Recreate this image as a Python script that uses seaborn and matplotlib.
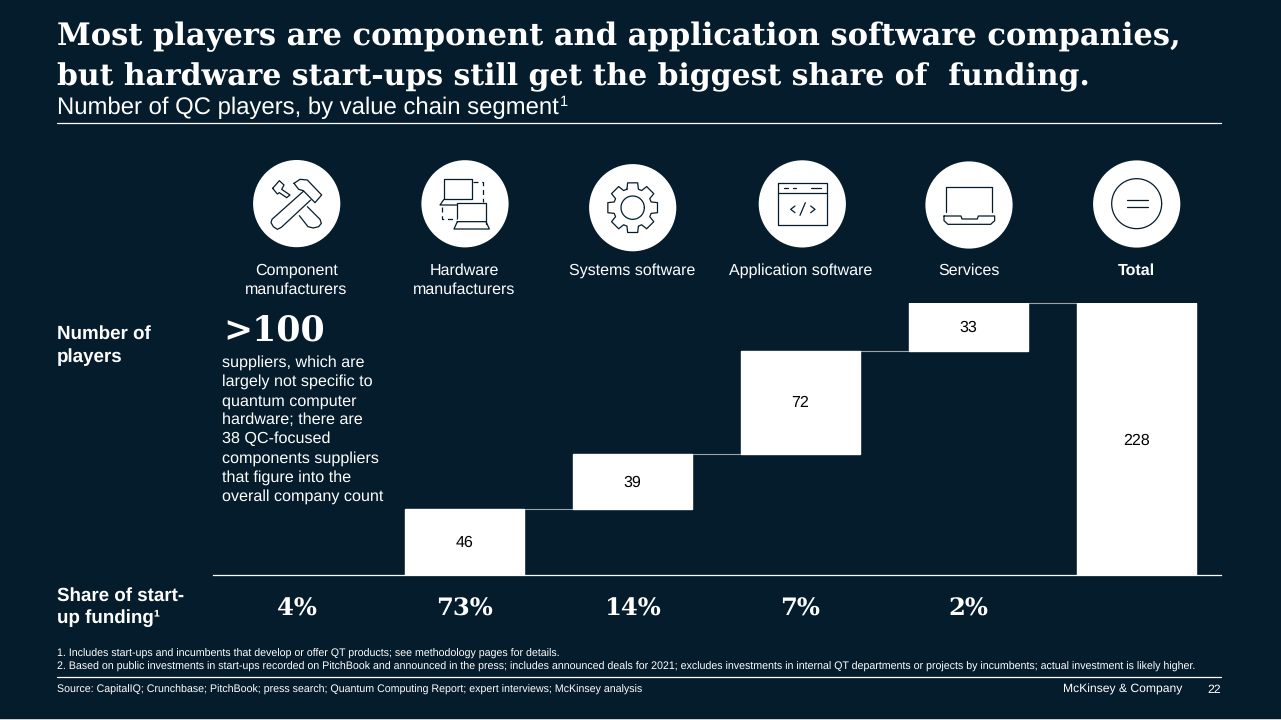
import numpy as np
import pandas as pd
import matplotlib
matplotlib.use('Agg')
import matplotlib.pyplot as plt
from matplotlib.patches import Circle, Rectangle
import seaborn as sns

segments = ['Component', 'Hardware', 'Systems', 'Application', 'Services', 'Total']
segment_labels = ['Component\nmanufacturers', 'Hardware\nmanufacturers', 'Systems software',
                  'Application software', 'Services', 'Total']
# component suppliers are not drawn as a bar, the total bar only spans the visible steps
step_values = [0, 46, 39, 72, 33]
value_labels = ['', '46', '39', '72', '33', '228']
funding_labels = ['4%', '73%', '14%', '7%', '2%', '']

title_lines = ['Most players are component and application software companies,',
               'but hardware start-ups still get the biggest share of  funding.']
subtitle = 'Number of QC players, by value chain segment'
note_lines = ['suppliers, which are', 'largely not specific to', 'quantum computer', 'hardware; there are',
              '38 QC-focused', 'components suppliers', 'that figure into the', 'overall company count']
footnotes = ['1. Includes start-ups and incumbents that develop or offer QT products; see methodology pages for details.',
             '2. Based on public investments in start-ups recorded on PitchBook and announced in the press; includes announced deals for 2021; excludes investments in internal QT departments or projects by incumbents; actual investment is likely higher.']
source = 'Source: CapitalIQ; Crunchbase; PitchBook; press search; Quantum Computing Report; expert interviews; McKinsey analysis'

BG = '#051C2C'
SANS = 'Liberation Sans'
SERIF = 'DejaVu Serif'
W, H = 1281, 720

sns.set_theme(style='white')
plt.rcParams['font.family'] = [SANS, 'DejaVu Sans']
plt.rcParams['text.hinting'] = 'none'

fig = plt.figure(figsize=(W / 100, H / 100), dpi=100, facecolor=BG)

# overlay in pixel coordinates for the slide furniture
page = fig.add_axes([0, 0, 1, 1], zorder=3)
page.set_xlim(0, W)
page.set_ylim(H, 0)
page.axis('off')
page.patch.set_alpha(0)

# waterfall axes
ax = fig.add_axes([212.5 / W, (H - 575) / H, 1008 / W, 271.5 / H], zorder=2)
ax.patch.set_alpha(0)

bottoms = np.concatenate([[0], np.cumsum(step_values)[:-1]])
total = sum(step_values)
df = pd.DataFrame({'segment': segments,
                   'height': step_values + [total],
                   'bottom': list(bottoms) + [0]})
for _, row in df.iterrows():
    if row['height'] == 0:
        continue
    sns.barplot(x=[row['segment']], y=[row['height']], bottom=row['bottom'], order=segments,
                color='white', width=0.705, saturation=1, ax=ax, zorder=3)

ax.set_xlim(-0.5, 5.5)
ax.set_ylim(0, total)
ax.set_xlabel('')
ax.set_ylabel('')
ax.set_xticks([])
ax.set_yticks([])
sns.despine(ax=ax, left=True, top=True, right=True, bottom=False)
ax.spines['bottom'].set_color('white')
ax.spines['bottom'].set_linewidth(0.9)

# connectors and value labels
tops = df['bottom'] + df['height']
for i in range(1, 5):
    ax.plot([i + 0.354, i + 1 - 0.354], [tops[i], tops[i]], color='#9aa4ab', lw=0.8, clip_on=False, zorder=2)
for i, label in enumerate(value_labels):
    if label:
        ax.text(i, df['bottom'][i] + df['height'][i] / 2 - 0.7, label, ha='center', va='center',
                color='black', fontsize=11.5, zorder=4)


def txt(x, y, s, size, weight='normal', family=SANS, ha='left', color='white'):
    page.text(x, y, s, fontsize=size, fontweight=weight, family=family, ha=ha, va='baseline', color=color)


txt(57, 45, title_lines[0], 22.0, 'bold', SERIF)
txt(57, 85, title_lines[1], 21.5, 'bold', SERIF)
txt(57, 114, subtitle, 17.2)
txt(560, 106, '1', 10.5)
page.plot([57, 1221], [123, 123], color='white', lw=0.9)

centers_x = [296.5 + 168 * i for i in range(6)]
for x, label in zip(centers_x, segment_labels):
    lines = label.split('\n')
    for j, line in enumerate(lines):
        txt(x, 275 + 19 * j, line, 11.5, 'bold' if label == 'Total' else 'normal', ha='center')

txt(57, 339, 'Number of', 13.5, 'bold')
txt(57, 362, 'players', 13.5, 'bold')
txt(223.5, 342, '>100', 25, 'bold', SERIF)
for j, line in enumerate(note_lines):
    txt(222, 367 + 19.1 * j, line, 11.65)

txt(57, 601, 'Share of start-', 13.5, 'bold')
txt(57, 623, 'up funding\u00b9', 13.5, 'bold')
for x, label in zip(centers_x, funding_labels):
    if label:
        txt(x, 616, label, 17.5, 'bold', SERIF, ha='center')

txt(57, 657, footnotes[0], 7.68)
txt(57, 670, footnotes[1], 7.68)
page.plot([57, 1221], [676.5, 676.5], color='white', lw=0.9)
txt(57, 693, source, 7.68)
txt(1182, 693, 'McKinsey & Company', 8.7, ha='right')
txt(1221, 693, '22', 8.8, ha='right')

# bottom edge of the slide screenshot
page.add_patch(Rectangle((0, 718.5), W, 2, color='#c8cdd0', lw=0))


# icons: white discs with thin outlines, points given in page pixels
circle_centers = [(296.7, 203.6), (465, 203.8), (632.7, 207.7), (802.3, 203.9), (969, 205), (1136.7, 204)]
for cx, cy in circle_centers:
    page.add_patch(Circle((cx, cy), 43.6, color='white', lw=0))


def stroke(points, origin, lw=0.9, closed=False, dashed=False):
    ox, oy = origin
    pts = [(ox + px / 3, oy + py / 3) for px, py in points]
    if closed:
        pts.append(pts[0])
    xs, ys = zip(*pts)
    page.plot(xs, ys, color=BG, lw=lw, ls=(0, (4, 3)) if dashed else '-', solid_joinstyle='round')


# hammer and chisel
o1 = (220, 150)
stroke([(222, 100), (240, 88), (262, 90), (305, 135), (285, 158), (250, 122), (236, 118)], o1, closed=True)
stroke([(250, 124), (156, 208), (153, 218), (160, 230), (172, 238), (184, 232), (272, 150)], o1)
stroke([(262, 170), (300, 208), (304, 220), (296, 230), (280, 234), (264, 230), (238, 197)], o1)
stroke([(158, 115), (178, 92), (192, 105), (185, 118), (210, 135), (200, 143), (178, 128), (172, 132)], o1, closed=True)

# two laptops with dashed links
stroke([(672, 148), (672, 88), (755, 88), (755, 148), (672, 148)], o1)
stroke([(672, 148), (660, 165), (712, 165)], o1)
stroke([(712, 205), (712, 158), (798, 158), (798, 222)], o1)
stroke([(712, 215), (798, 215), (808, 237), (702, 237), (712, 215)], o1)
stroke([(760, 95), (790, 95), (790, 155)], o1, dashed=True)
stroke([(667, 170), (667, 207), (712, 207)], o1, dashed=True)

# gear
o2 = (570, 150)
gcx, gcy = 188, 173
outer = []
for k in range(8):
    a = np.deg2rad(45 * k - 90)
    for da, r in [(-0.30, 58), (-0.20, 76), (0.20, 76), (0.30, 58)]:
        outer.append((gcx + r * np.cos(a + da), gcy + r * np.sin(a + da)))
stroke(outer, o2, closed=True)
theta = np.linspace(0, 2 * np.pi, 60)
stroke(list(zip(gcx + 35 * np.cos(theta), gcy + 35 * np.sin(theta))), o2)

# browser window with code
stroke([(623, 98), (772, 98), (772, 226), (623, 226)], o2, closed=True)
stroke([(623, 128), (772, 128)], o2)
stroke([(643, 115), (653, 115)], o2)
stroke([(668, 115), (678, 115)], o2)
stroke([(724, 115), (752, 115)], o2)
stroke([(675, 168), (662, 178), (675, 188)], o2)
stroke([(706, 158), (690, 196)], o2)
stroke([(722, 168), (735, 178), (722, 188)], o2)

# laptop
o3 = (900, 150)
stroke([(139, 185), (139, 110), (276, 110), (276, 185)], o3)
stroke([(132, 198), (183, 198), (186, 207), (232, 207), (235, 198), (284, 198), (284, 212), (272, 223), (144, 223), (132, 212)], o3, closed=True)

# equals sign in a ring
stroke(list(zip(710 + 75 * np.cos(theta), 161 + 75 * np.sin(theta))), o3)
stroke([(680, 151), (743, 151)], o3)
stroke([(680, 171), (743, 171)], o3)

fig.savefig('out.png', dpi=100, facecolor=BG)
